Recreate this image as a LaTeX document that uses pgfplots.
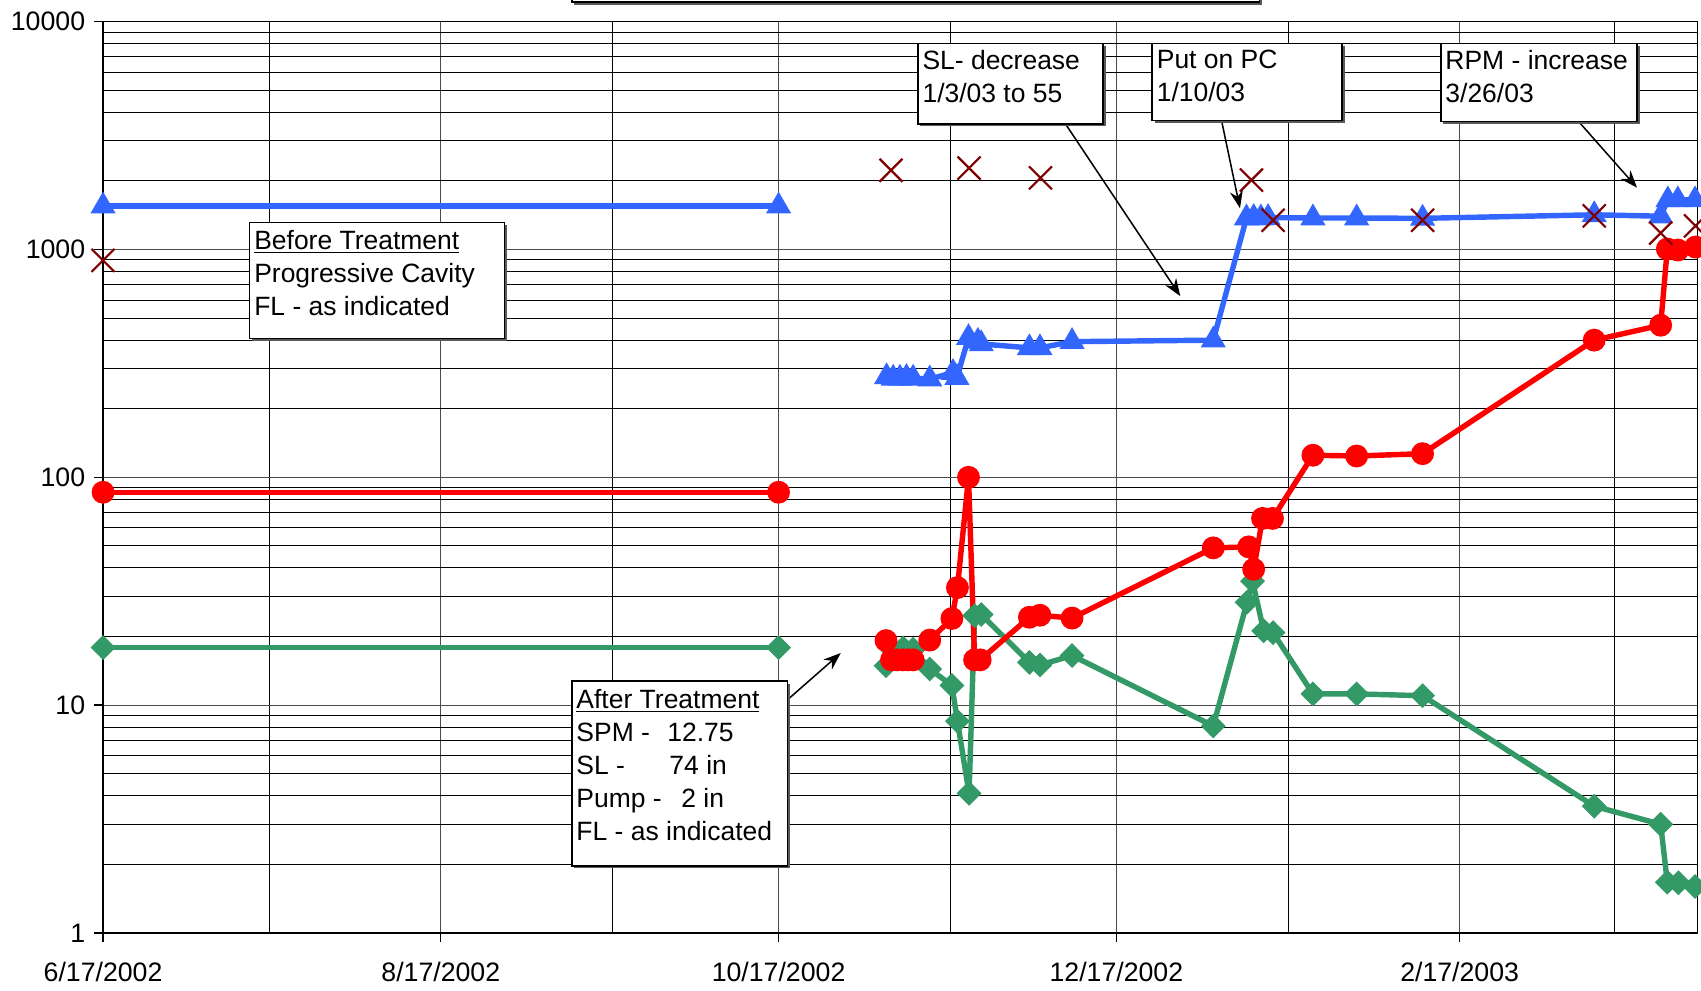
\documentclass[border=0pt]{standalone}
\usepackage{fontspec}
\setmainfont{Liberation Sans}
\usepackage{pgfplots}
\pgfplotsset{compat=1.18}
\usetikzlibrary{arrows.meta}
\definecolor{cBlue}{RGB}{51,102,255}
\definecolor{cRed}{RGB}{255,0,0}
\definecolor{cGreen}{RGB}{51,153,102}
\definecolor{cX}{RGB}{128,0,0}
\newcommand\abox[4]{%
  \fill[black!65] (#1+2.5,#2+2.5) rectangle (#3+2.5,#4+2.5);
  \draw[fill=white,line width=0.8pt] (#1,#2) rectangle (#3,#4);}
\begin{document}
\fontsize{12.2}{15.2}\selectfont
\begin{tikzpicture}
\path[use as bounding box] (0,0) rectangle (784pt,456.5pt);
\begin{axis}[
  at={(47.5pt,26.5pt)}, anchor=south west,
  scale only axis, width=735pt, height=420pt,
  ymode=log, xmin=0, xmax=288, ymin=1, ymax=10000,
  clip=false,
  xtick={0,61,122,183,245},
  xticklabels={6/17/2002,8/17/2002,10/17/2002,12/17/2002,2/17/2003},
  minor xtick={30,92,153,214,273},
  ytick={1,10,100,1000,10000},
  yticklabels={1,10,100,1000,10000},
  minor ytick={2,3,4,5,6,7,8,9,20,30,40,50,60,70,80,90,200,300,400,500,600,700,800,900,2000,3000,4000,5000,6000,7000,8000,9000},
  xmajorgrids, xminorgrids, ymajorgrids, yminorgrids,
  major grid style={black!70, line width=0.5pt},
  minor grid style={black, line width=0.45pt},
  tick align=outside, major tick length=4pt, minor tick length=0pt,
  xtick pos=bottom, ytick pos=left,
  tick style={black, line width=0.6pt},
  axis line style={black, line width=0.6pt},
  tick label style={font=\fontsize{12.3}{14}\selectfont},
  xticklabel style={yshift=-5pt},
  after end axis/.code={\draw[black, line width=1.3pt] (rel axis cs:0,0) -- (rel axis cs:1,0);},
]
% green (before / after)
\addplot[cGreen, line width=2.5pt, mark=square*, mark size=2.8pt, mark options={rotate=45}] table {
0 17.9
122 17.9
};
\addplot[cGreen, line width=2.5pt, mark=square*, mark size=2.8pt, mark options={rotate=45}] table {
141.4 14.9
142.7 17.3
144.5 17.8
146.3 17.6
149.3 14.4
153.3 12.2
154.3 8.5
156.4 4.1
157.4 24.7
158.6 25.0
167.3 15.4
169.2 15.0
175.0 16.5
200.5 8.1
206.6 28.3
207.6 35
209.6 21.2
211.3 20.8
218.5 11.2
226.4 11.2
238.3 11.0
269.3 3.6
281.3 3.0
282.5 1.67
284.5 1.66
287.5 1.60
};
% red
\addplot[cRed, line width=2.5pt, mark=*, mark size=4pt] table {
0 86
122 86
};
\addplot[cRed, line width=2.5pt, mark=*, mark size=4pt] table {
141.4 19.2
142.4 15.8
143.4 15.8
144.4 15.8
145.4 15.8
146.3 15.8
149.3 19.3
153.3 24.0
154.3 32.8
156.3 100
157.4 15.8
158.4 15.8
167.3 24.3
169.2 24.8
175.0 24.1
200.5 49
206.9 49.5
207.8 39.5
209.4 66
211.2 66
218.5 125
226.4 124
238.3 127
269.3 400
281.3 465
282.5 1005
284.4 995
287.6 1025
};
% blue
\addplot[cBlue, line width=2.5pt, mark=triangle*, mark size=4.2pt] table {
0 1550
122 1550
};
\addplot[cBlue, line width=2.5pt, mark=triangle*, mark size=4.2pt] table {
141.5 276
142.7 272
143.9 272
145.1 274
146.3 272
149.3 270
153.5 288
154.2 274
156.3 410
158.0 395
158.6 385
167.3 370
169.2 370
175.0 394
200.5 400
206.5 1375
207.8 1380
209.1 1375
210.4 1380
218.5 1375
226.4 1375
238.3 1370
269.3 1420
281.3 1400
282.6 1650
284.4 1650
287.5 1650
};
% crosses
\addplot[cX, only marks, mark=x, mark size=7.5pt, mark options={line width=1pt}] table {
0 896
142.3 2227
156.4 2277
169.3 2063
207.4 2018
211.3 1344
238.3 1344
269.3 1405
281.3 1180
287.6 1270
};
\end{axis}
\begin{scope}[x=0.5pt,y=-0.5pt,shift={(0pt,456.5pt)}]
  % title box remnant
  \fill[black!65] (529.5,-10) rectangle (1163.5,4.5);
  \draw[fill=white,line width=0.8pt] (527,-10) rectangle (1161,2);
  % arrows
  \draw[line width=0.7pt,-{Stealth[length=8pt,width=6pt]}] (726,645) -- (775,602);
  \draw[line width=0.7pt,-{Stealth[length=8pt,width=6pt]}] (982,114) -- (1088,273);
  \draw[line width=0.7pt,-{Stealth[length=8pt,width=6pt]}] (1126,111) -- (1143,192);
  \draw[line width=0.7pt,-{Stealth[length=8pt,width=6pt]}] (1456,113) -- (1509,173);
  % boxes
  \abox{230}{205}{465}{312}
  \node[anchor=north west,inner sep=0pt,align=left,font=\fontsize{12.2}{15.2}\selectfont] at (234,212)
    {\underline{Before Treatment}\\Progressive Cavity\\FL - as indicated};
  \abox{527}{628}{726}{798}
  \node[anchor=north west,inner sep=0pt,align=left,font=\fontsize{12.2}{15.2}\selectfont] at (531,635)
    {\underline{After Treatment}\\SPM -\hspace{8pt}12.75\\SL -\hspace{20.5pt}74 in\\Pump -\hspace{9pt}2 in\\FL - as indicated};
  \abox{846}{40}{1017}{114}
  \node[anchor=north west,inner sep=0pt,align=left,font=\fontsize{12.2}{15.2}\selectfont] at (850,46)
    {SL- decrease\\1/3/03 to 55};
  \abox{1062}{40}{1237}{111}
  \node[anchor=north west,inner sep=0pt,align=left,font=\fontsize{12.2}{15.2}\selectfont] at (1066,46)
    {Put on PC\\1/10/03};
  \abox{1328}{40}{1509}{112}
  \node[anchor=north west,inner sep=0pt,align=left,font=\fontsize{12.2}{15.2}\selectfont] at (1332,46)
    {RPM - increase\\3/26/03};
\end{scope}
\end{tikzpicture}
\end{document}
